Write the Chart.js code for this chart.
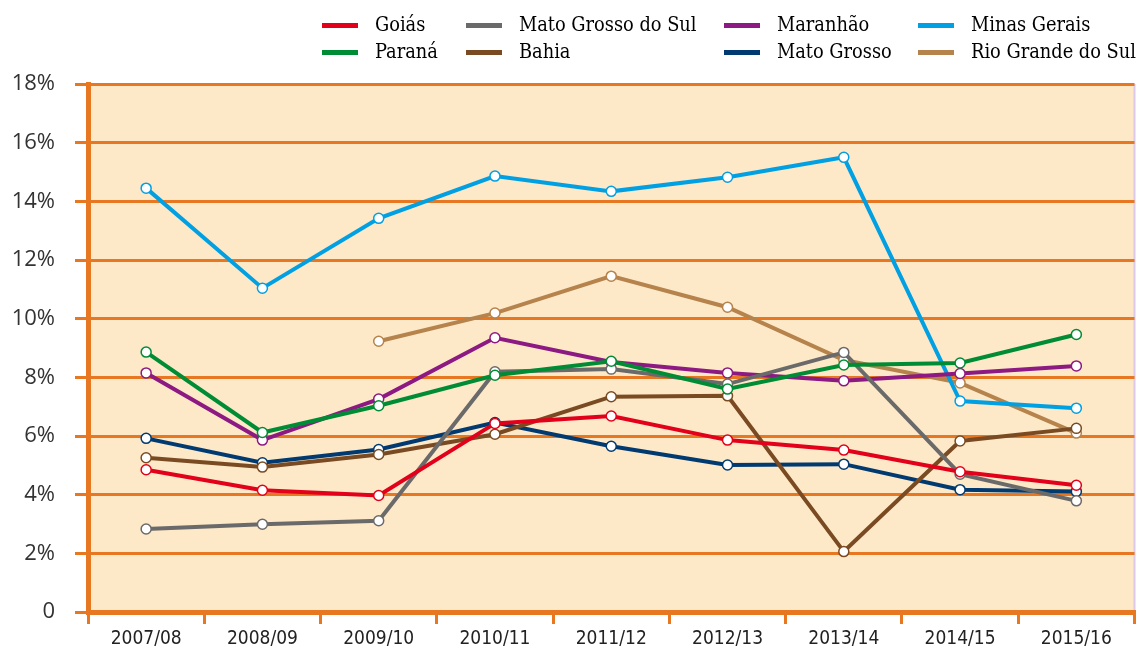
<!DOCTYPE html>
<html>
<head>
<meta charset="utf-8">
<script src="https://cdn.jsdelivr.net/npm/chart.js@4"></script>
<style>
  html, body { margin: 0; padding: 0; background: #ffffff; }
  #wrap { position: relative; width: 1141px; height: 651px; }
  #chart { position: absolute; left: 0; top: 0; }
  .leg { position: absolute; font-family: "DejaVu Serif Condensed", "DejaVu Serif", serif; font-size: 19.8px; color: #000; white-space: nowrap; }
  .leg .sw { position: absolute; left: 0; top: 50%; width: 36px; height: 5px; margin-top: -2px; }
  .leg .tx { position: absolute; left: 53px; top: 0; line-height: 24px; }
</style>
</head>
<body>
<div id="wrap">
  <canvas id="chart" width="1141" height="651"></canvas>
  <div id="legend"></div>
</div>
<script>
const categories = ["2007/08","2008/09","2009/10","2010/11","2011/12","2012/13","2013/14","2014/15","2015/16"];
const yTicks = [0, 2, 4, 6, 8, 10, 12, 14, 16, 18];

const goias            = [4.85, 4.15, 3.97, 6.43, 6.68, 5.86, 5.52, 4.78, 4.32];
const parana           = [8.86, 6.12, 7.03, 8.07, 8.55, 7.60, 8.42, 8.49, 9.46];
const matoGrossoDoSul  = [2.83, 2.99, 3.11, 8.19, 8.28, 7.77, 8.85, 4.70, 3.79];
const bahia            = [5.26, 4.94, 5.37, 6.06, 7.34, 7.37, 2.06, 5.83, 6.26];
const maranhao         = [8.15, 5.86, 7.26, 9.35, 8.52, 8.15, 7.88, 8.13, 8.39];
const matoGrosso       = [5.92, 5.09, 5.54, 6.46, 5.65, 5.01, 5.04, 4.17, 4.11];
const minasGerais      = [14.45, 11.04, 13.42, 14.86, 14.34, 14.82, 15.50, 7.19, 6.95];
const rioGrandeDoSul   = [null, null, 9.23, 10.19, 11.45, 10.39, 8.59, 7.81, 6.10];

const series = [
  { label: "Goiás", data: goias, color: "#e2001a" },
  { label: "Paraná", data: parana, color: "#008c35" },
  { label: "Mato Grosso do Sul", data: matoGrossoDoSul, color: "#6a6a6a" },
  { label: "Bahia", data: bahia, color: "#7a4b22" },
  { label: "Maranhão", data: maranhao, color: "#8c1a82" },
  { label: "Mato Grosso", data: matoGrosso, color: "#003a70" },
  { label: "Minas Gerais", data: minasGerais, color: "#00a0e2" },
  { label: "Rio Grande do Sul", data: rioGrandeDoSul, color: "#b5834b" }
];

// legend layout: [column x, row y] per series
const legendPos = {
  "Goiás": [322, 13], "Mato Grosso do Sul": [466, 13], "Maranhão": [724, 13], "Minas Gerais": [918, 13],
  "Paraná": [322, 40], "Bahia": [466, 40], "Mato Grosso": [724, 40], "Rio Grande do Sul": [918, 40]
};
const legendEl = document.getElementById("legend");
series.forEach(s => {
  const p = legendPos[s.label];
  const d = document.createElement("div");
  d.className = "leg";
  d.style.left = p[0] + "px";
  d.style.top = p[1] + "px";
  d.style.height = "24px";
  d.innerHTML = '<div class="sw" style="background:' + s.color + '"></div><div class="tx">' + s.label + '</div>';
  legendEl.appendChild(d);
});

const ORANGE = "#e87722";

const bgPlugin = {
  id: "bg",
  beforeDraw(chart) {
    const a = chart.chartArea;
    const ctx = chart.ctx;
    ctx.save();
    ctx.fillStyle = "#fde8c8";
    ctx.fillRect(a.left, a.top, a.right - a.left, a.bottom - a.top);
    ctx.strokeStyle = "#dcc8e8";
    ctx.lineWidth = 2;
    ctx.beginPath();
    ctx.moveTo(a.right, a.top);
    ctx.lineTo(a.right, a.bottom);
    ctx.stroke();
    ctx.restore();
  }
};

new Chart(document.getElementById("chart"), {
  type: "line",
  data: {
    labels: categories,
    datasets: series.map(s => ({
      label: s.label,
      data: s.data,
      borderColor: s.color,
      backgroundColor: s.color,
      borderWidth: 4,
      pointRadius: 5,
      pointBorderWidth: 1.5,
      pointBackgroundColor: "#ffffff",
      pointBorderColor: s.color,
      tension: 0,
      fill: false
    }))
  },
  options: {
    responsive: false,
    animation: false,
    layout: { padding: { top: 84, right: 3, left: 0, bottom: 0 } },
    plugins: { legend: { display: false }, tooltip: { enabled: false } },
    scales: {
      x: {
        offset: true,
        afterFit(scale) { scale.height = 39; },
        grid: { drawOnChartArea: false, drawTicks: true, tickLength: 12, color: ORANGE, lineWidth: 3, offset: true },
        border: { display: true, color: ORANGE, width: 5 },
        ticks: { color: "#222", padding: 4, font: { family: "DejaVu Sans Condensed", size: 19 }, maxRotation: 0 }
      },
      y: {
        min: 0, max: 18,
        afterFit(scale) { scale.width = 88; },
        afterBuildTicks(scale) { scale.ticks = yTicks.map(v => ({ value: v })); },
        grid: { color: ORANGE, lineWidth: 3, drawTicks: true, tickLength: 13 },
        border: { display: true, color: ORANGE, width: 5 },
        ticks: {
          color: "#333", padding: 20,
          font: { family: "Open Sans", size: 22 },
          callback: v => v === 0 ? "0" : v + "%"
        }
      }
    }
  },
  plugins: [bgPlugin]
});
</script>
</body>
</html>
